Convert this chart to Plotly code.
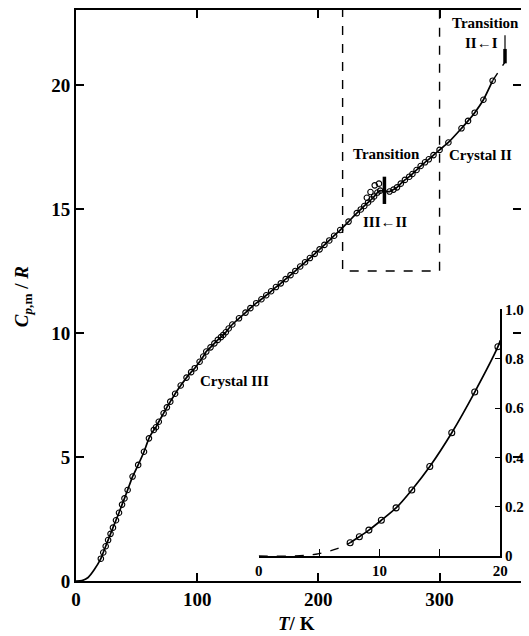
import plotly.graph_objects as go

# ---------------- data ----------------
# main curve, low-temperature part without circles
low_T = [0, 5, 10, 15]
low_C = [0.0, 0.02, 0.14, 0.45]

# measured points, crystal III (below the III<-II transition)
c3_T = [20.5, 22.5, 24.5, 26.5, 28.5, 30.5, 33, 35.5, 38, 40, 42.6, 46.7, 51.3,
        56.1, 60.2, 64.2, 66, 68.3, 72.3, 75, 77.8, 81.8, 86.4, 91.2, 95, 98,
        102, 105, 107.5, 111, 114.2, 117, 119.6, 121.5, 123.6, 126, 129, 134.5,
        139.9, 143.9, 148.7, 153, 157, 161, 165, 169, 173, 177, 181, 185, 189,
        193, 197, 201, 205, 209, 213, 218, 224.9, 231.7, 235, 237.9, 241,
        243.9, 246, 248.7, 251]
c3_C = [0.9, 1.15, 1.4, 1.65, 1.9, 2.15, 2.45, 2.75, 3.08, 3.33, 3.67, 4.21, 4.68,
        5.21, 5.75, 6.09, 6.2, 6.42, 6.76, 7.0, 7.23, 7.55, 7.88, 8.2, 8.42, 8.58,
        8.84, 9.05, 9.25, 9.42, 9.58, 9.72, 9.83, 9.92, 10.03, 10.18, 10.34, 10.59,
        10.82, 11.0, 11.2, 11.36, 11.52, 11.68, 11.85, 12.0, 12.17, 12.33, 12.5,
        12.68, 12.85, 13.02, 13.19, 13.37, 13.55, 13.73, 13.92, 14.15, 14.49,
        14.83, 14.98, 15.12, 15.26, 15.39, 15.5, 15.66, 15.74]

# anomalous points just below the transition
anom_T = [240, 243, 246.5, 250]
anom_C = [15.45, 15.68, 15.95, 16.02]

# measured points, crystal II
c2_T = [258.7, 262, 264.9, 268, 271.4, 275, 277.6, 281, 284.4, 288, 291.1, 295,
        300, 307.3, 318.1, 323.5, 329, 336.2, 343.8]
c2_C = [15.7, 15.78, 15.87, 16.02, 16.17, 16.3, 16.41, 16.57, 16.73, 16.88,
        17.0, 17.17, 17.38, 17.68, 18.25, 18.55, 18.88, 19.4, 20.17]

# dashed extrapolation towards the II<-I transition
ext_T = [343.8, 353.7]
ext_C = [20.17, 20.9]

# transition markers
tr32_T = [254.5, 254.5]
tr32_C = [15.2, 16.3]
tr21_T = [354, 354]
tr21_thin_C = [22.0, 21.45]
tr21_thick_C = [21.45, 20.87]

# dashed box around the III<-II region
box_T = [220, 220, 300, 300]
box_C = [23.1, 12.5, 12.5, 23.1]

# inset (0-20 K)
ins_dash_T = [0, 2.5, 4, 5, 6.5, 7.57]
ins_dash_C = [0.0, 0.0, 0.003, 0.01, 0.03, 0.054]
ins_T = [7.57, 8.33, 9.12, 10.15, 11.37, 12.67, 14.16, 15.98, 17.88, 19.8]
ins_C = [0.054, 0.078, 0.105, 0.145, 0.195, 0.268, 0.363, 0.50, 0.665, 0.849]
ins_line_end_T = [20]
ins_line_end_C = [0.875]

main_xticks = [0, 100, 200, 300]
main_yticks = [0, 5, 10, 15, 20]
ins_xticks = [0, 10, 20]
ins_yticks = [0, 0.2, 0.4, 0.6, 0.8, 1.0]
ins_ytext = ["0", "0.2", "0.4", "0.6", "0.8", "1.0"]

# ---------------- figure ----------------
FONT = "Liberation Serif"
BLACK = "black"
fig = go.Figure()

line_T = low_T + c3_T + c2_T
line_C = low_C + c3_C + c2_C
fig.add_trace(go.Scatter(x=line_T, y=line_C, mode="lines",
                         line=dict(color=BLACK, width=1.7, shape="spline", smoothing=0.6),
                         hoverinfo="skip", showlegend=False))
fig.add_trace(go.Scatter(x=ext_T, y=ext_C, mode="lines",
                         line=dict(color=BLACK, width=1.4, dash="dash"),
                         hoverinfo="skip", showlegend=False))
marker = dict(symbol="circle-open", size=5.5, color=BLACK, line=dict(width=1.1, color=BLACK))
fig.add_trace(go.Scatter(x=c3_T + c2_T, y=c3_C + c2_C, mode="markers", marker=marker,
                         showlegend=False))
fig.add_trace(go.Scatter(x=anom_T, y=anom_C, mode="markers", marker=marker,
                         showlegend=False))
fig.add_trace(go.Scatter(x=tr32_T, y=tr32_C, mode="lines",
                         line=dict(color=BLACK, width=3.5), showlegend=False))
fig.add_trace(go.Scatter(x=tr21_T, y=tr21_thin_C, mode="lines",
                         line=dict(color=BLACK, width=1.2), showlegend=False))
fig.add_trace(go.Scatter(x=tr21_T, y=tr21_thick_C, mode="lines",
                         line=dict(color=BLACK, width=3.5), showlegend=False))
fig.add_trace(go.Scatter(x=box_T, y=box_C, mode="lines",
                         line=dict(color=BLACK, width=1.4, dash="dash"),
                         showlegend=False, cliponaxis=True))

# right-hand main ticks (invisible helper trace on y2)
fig.add_trace(go.Scatter(x=[0], y=[0], yaxis="y2", mode="markers",
                         marker=dict(opacity=0), hoverinfo="skip", showlegend=False))

# inset traces
fig.add_trace(go.Scatter(x=ins_dash_T, y=ins_dash_C, xaxis="x3", yaxis="y3", mode="lines",
                         line=dict(color=BLACK, width=1.3, dash="dash", shape="spline"),
                         showlegend=False))
fig.add_trace(go.Scatter(x=ins_T + ins_line_end_T, y=ins_C + ins_line_end_C,
                         xaxis="x3", yaxis="y3", mode="lines",
                         line=dict(color=BLACK, width=1.7, shape="spline", smoothing=0.6),
                         showlegend=False))
fig.add_trace(go.Scatter(x=ins_T, y=ins_C, xaxis="x3", yaxis="y3", mode="markers",
                         marker=dict(symbol="circle-open", size=6, color=BLACK,
                                     line=dict(width=1.1, color=BLACK)),
                         showlegend=False))

tick_font = dict(family=FONT, size=19, color=BLACK, weight="bold")
ins_font = dict(family=FONT, size=15, color=BLACK, weight="bold")

fig.update_layout(
    width=529, height=636,
    margin=dict(l=76, r=0, t=10, b=55),
    paper_bgcolor="white", plot_bgcolor="rgba(0,0,0,0)",
    showlegend=False,
    xaxis=dict(range=[0, 367.2], tickvals=main_xticks, ticks="inside", ticklen=8,
               tickwidth=1.5, tickcolor=BLACK, showline=True, linewidth=2,
               linecolor=BLACK, mirror="ticks", showgrid=False, zeroline=False,
               tickfont=tick_font),
    yaxis=dict(range=[0, 23.02], tickvals=main_yticks, ticks="inside", ticklen=8,
               tickwidth=1.5, tickcolor=BLACK, showline=True, linewidth=2,
               linecolor=BLACK, showgrid=False, zeroline=False, tickfont=tick_font),
    yaxis2=dict(range=[0, 23.02], overlaying="y", side="right", tickvals=main_yticks,
                ticks="inside", ticklen=8, tickwidth=1.5, tickcolor=BLACK,
                showline=False, showticklabels=False, showgrid=False, zeroline=False),
    xaxis3=dict(domain=[0.4106, 0.9536], anchor="y3", range=[0, 20],
                tickvals=ins_xticks, ticks="inside", ticklen=7,
                tickwidth=1.2, tickcolor=BLACK, showline=True, linewidth=1.5,
                linecolor=BLACK, showgrid=False, zeroline=False, tickfont=ins_font,
                minor=dict(tickvals=[5, 15], ticks="inside", ticklen=7, tickwidth=1.2,
                           tickcolor=BLACK, showgrid=False)),
    yaxis3=dict(domain=[0.0438, 0.4755], anchor="x3", side="right", range=[0, 1.0],
                tickvals=ins_yticks, ticktext=ins_ytext, ticks="inside", ticklen=6,
                tickwidth=1.2, tickcolor=BLACK, showline=True, linewidth=1.5,
                linecolor=BLACK, showgrid=False, zeroline=False, tickfont=ins_font),
)

ann_font = dict(family=FONT, size=15, color=BLACK, weight="bold")
labels = [
    ("Transition", 256.3, 17.22),
    ("III\u2190II", 254.6, 14.48),
    ("Crystal II", 333.6, 17.18),
    ("Transition", 337.7, 22.5),
    ("II\u2190I", 334.8, 21.68),
    ("Crystal III", 130.7, 8.06),
]
for txt, x, y in labels:
    fig.add_annotation(text=txt, x=x, y=y, xref="x", yref="y", showarrow=False,
                       font=ann_font, xanchor="center", yanchor="middle")

title_font = dict(family=FONT, size=19, color=BLACK, weight="bold")
fig.add_annotation(text="<i>C</i><sub><i>p</i>,m</sub> / <i>R</i>", x=-0.119, y=0.497,
                   xref="paper", yref="paper", textangle=-90, showarrow=False,
                   font=title_font, xanchor="center", yanchor="middle")
fig.add_annotation(text="<i>T</i>/ K", x=0.495, y=-0.074, xref="paper", yref="paper",
                   showarrow=False, font=title_font, xanchor="center", yanchor="middle")

fig.write_html("out.html")
